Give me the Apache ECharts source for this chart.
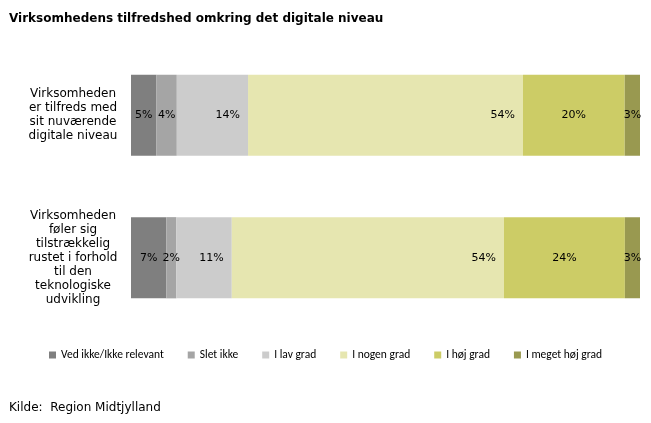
<!DOCTYPE html><html><head><meta charset="utf-8">
<script src="https://cdn.jsdelivr.net/npm/echarts@6/dist/echarts.min.js"></script>
<style>body{margin:0;background:#fff}#c{width:651px;height:423px}</style></head><body><div id="c"></div>
<script>
const categories = ['Virksomheden\ner tilfreds med\nsit nuværende\ndigitale niveau', 'Virksomheden\nføler sig\ntilstrækkelig\nrustet i forhold\ntil den\nteknologiske\nudvikling'];
const seriesNames = ['Ved ikke/Ikke relevant','Slet ikke','I lav grad','I nogen grad','I høj grad','I meget høj grad'];
const row1 = [5,4,14,54,20,3];
const row2 = [7,2,11,54,24,3];
const colors = ['#7f7f7f','#a5a5a5','#cccccc','#e6e6b0','#cccc66','#999950'];
const labelPos = ['inside','inside','insideRight','insideRight','inside','inside'];
const rows=[row1,row2];
const sums=rows.map(r=>r.reduce((a,b)=>a+b,0));
const font='Verdana, "DejaVu Sans", sans-serif';
const chart=echarts.init(document.getElementById('c'));
chart.setOption({
  animation:false,
  title:[{text:'Virksomhedens tilfredshed omkring det digitale niveau',left:4,top:8,textStyle:{fontSize:12,fontWeight:'bold',fontFamily:font,color:'#000'}},
         {text:'Kilde:  Region Midtjylland',left:4,top:397,textStyle:{fontSize:12,fontWeight:'normal',fontFamily:font,color:'#000'}}],
  legend:{top:344,left:'center',itemWidth:7,itemHeight:7,itemGap:24,icon:'rect',textStyle:{fontSize:11.5,fontFamily:'Carlito, Calibri, "Liberation Sans", sans-serif',color:'#000'}},
  grid:{left:131,right:11,top:44,bottom:94},
  xAxis:{type:'value',min:0,max:100,show:false},
  yAxis:{type:'category',inverse:true,data:categories,axisLine:{show:false},axisTick:{show:false},
    axisLabel:{fontSize:12,fontFamily:font,color:'#000',align:'center',margin:58,lineHeight:14}},
  series:seriesNames.map((n,i)=>({name:n,type:'bar',stack:'s',barWidth:'57%',itemStyle:{color:colors[i]},
    data:rows.map((r,j)=>({value:r[i]/sums[j]*100,raw:r[i]})),
    label:{show:true,position:labelPos[i],distance:8,fontSize:11,fontFamily:font,color:'#000',formatter:p=>p.data.raw+'%'}}))
});
</script></body></html>
